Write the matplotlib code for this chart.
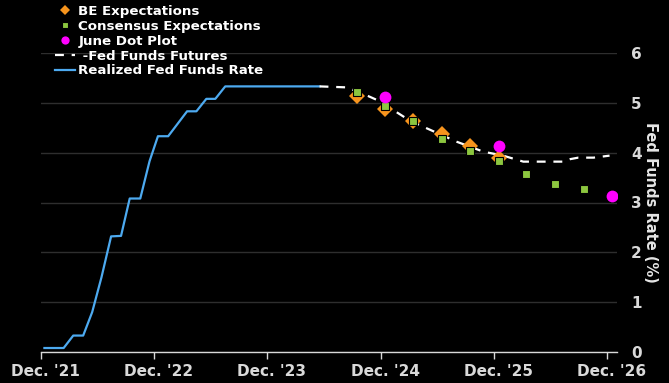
import numpy as np
import pandas as pd
import matplotlib
matplotlib.use("Agg")
import matplotlib.pyplot as plt
import matplotlib.transforms as mtransforms

# realized effective fed funds rate (%)
realized_dates = ["2021-12-12", "2022-02-12", "2022-03-15", "2022-04-16", "2022-05-15",
                  "2022-06-14", "2022-07-15", "2022-08-16", "2022-09-13", "2022-10-17",
                  "2022-11-16", "2022-12-13", "2023-01-15", "2023-03-17", "2023-04-16",
                  "2023-05-18", "2023-06-16", "2023-07-18", "2024-05-17"]
realized_vals = [0.08, 0.08, 0.33, 0.33, 0.80, 1.50, 2.32, 2.33, 3.08, 3.08,
                 3.83, 4.33, 4.33, 4.83, 4.83, 5.08, 5.08, 5.33, 5.33]

# fed funds futures implied path
futures_dates = ["2024-05-17", "2024-08-13", "2024-10-05", "2024-11-28", "2025-01-21",
                 "2025-03-05", "2025-05-08", "2025-08-02", "2025-10-27", "2025-12-30",
                 "2026-03-05", "2026-07-12", "2026-08-03", "2026-08-29", "2026-10-17",
                 "2026-12-08"]
futures_vals = [5.33, 5.31, 5.18, 5.03, 4.81, 4.64, 4.46, 4.22, 4.02, 3.94,
                3.82, 3.82, 3.87, 3.90, 3.90, 3.94]

# quarterly forecasts
quarter_dates = ["2024-09-15", "2024-12-15", "2025-03-15", "2025-06-15", "2025-09-15",
                 "2025-12-15", "2026-03-15", "2026-06-15", "2026-09-15"]
consensus_vals = [5.22, 4.93, 4.64, 4.28, 4.04, 3.84, 3.58, 3.38, 3.28]
be_vals = [5.13, 4.87, 4.64, 4.37, 4.13, 3.89]

# June dot plot medians
dot_dates = ["2024-12-15", "2025-12-15", "2026-12-15"]
dot_vals = [5.125, 4.125, 3.125]

tick_dates = ["2021-12-01", "2022-12-01", "2023-12-01", "2024-12-01", "2025-12-01", "2026-12-01"]
tick_labels = ["Dec. '21", "Dec. '22", "Dec. '23", "Dec. '24", "Dec. '25", "Dec. '26"]

plt.rcParams['font.family'] = ['DejaVu Sans']
plt.rcParams['font.weight'] = 'bold'

fig = plt.figure(figsize=(6.69, 3.83), dpi=100, facecolor='black')
ax = fig.add_axes([41/669, 31/383, 576/669, 299/383], facecolor='black')

ax.plot(pd.to_datetime(realized_dates), realized_vals, color='#4DAAF0', lw=1.6,
        zorder=3, label='Realized Fed Funds Rate')
ax.plot(pd.to_datetime(futures_dates), futures_vals, color='white', lw=1.6,
        dashes=(4, 3.5), zorder=3, label=' -Fed Funds Futures')
ax.plot(pd.to_datetime(quarter_dates[:len(be_vals)]), be_vals, 'D', color='#F7941D',
        ms=8, mew=0, zorder=4, label='BE Expectations')
ax.plot(pd.to_datetime(quarter_dates), consensus_vals, 's', color='#8CC63F',
        ms=5.5, mec='black', mew=0.8, zorder=5, label='Consensus Expectations')
ax.plot(pd.to_datetime(dot_dates), dot_vals, 'o', color='#FF00FF', ms=8.5, mew=0,
        zorder=6, label='June Dot Plot')

ax.set_xlim(pd.Timestamp("2021-12-01"), pd.Timestamp("2027-01-01"))
ax.set_ylim(0, 6)
ax.set_xticks(pd.to_datetime(tick_dates))
ax.set_xticklabels(tick_labels)
ax.set_yticks(range(0, 7))

ax.yaxis.tick_right()
ax.yaxis.set_label_position('right')
ax.tick_params(axis='y', length=0, pad=14, labelsize=11, labelcolor='#D9D9D9')
for t in ax.get_yticklabels():
    t.set_horizontalalignment('center')
ax.tick_params(axis='x', length=5, width=1, color='#D9D9D9', pad=4,
               labelsize=11, labelcolor='#D9D9D9')
# labels sit a little right of their ticks
shift = mtransforms.ScaledTranslation(4.5/100, 0, fig.dpi_scale_trans)
for t in ax.get_xticklabels():
    t.set_transform(t.get_transform() + shift)
ax.set_ylabel('Fed Funds Rate (%)', rotation=270, color='#E6E6E6', fontsize=10.5,
              fontweight='bold', labelpad=12)

ax.grid(axis='y', color='#2E2E2E', lw=1)
ax.set_axisbelow(True)
for s in ['top', 'right', 'left']:
    ax.spines[s].set_visible(False)
ax.spines['bottom'].set_color('#D9D9D9')
ax.spines['bottom'].set_linewidth(1)

handles, labels = ax.get_legend_handles_labels()
order = [2, 3, 4, 1, 0]
leg = fig.legend([handles[i] for i in order], [labels[i] for i in order],
                 loc='upper left', bbox_to_anchor=(55/669, 1 - 5/383), frameon=False,
                 fontsize=9.6, labelspacing=0.14, handlelength=1.5, handletextpad=0.25,
                 borderpad=0, borderaxespad=0, markerscale=0.7)
for t in leg.get_texts():
    t.set_color('white')

fig.savefig('out.png', dpi=100, facecolor='black')
